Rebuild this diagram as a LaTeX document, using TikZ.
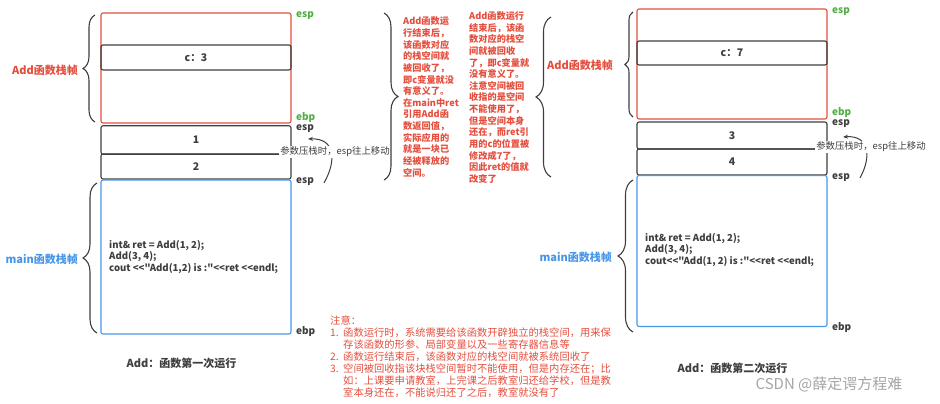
\documentclass[tikz,border=0pt]{standalone}
\usepackage{fontspec}
\newfontfamily\cjk{Noto Sans CJK SC}
\usetikzlibrary{arrows.meta,decorations.pathreplacing}
\definecolor{R}{RGB}{228, 78, 62}
\definecolor{B}{RGB}{72, 150, 232}
\definecolor{G}{RGB}{84, 174, 70}
\definecolor{K}{RGB}{62, 62, 62}
\definecolor{W}{RGB}{165, 165, 165}

\tikzset{
  stackbox/.style={draw=K,line width=1.1pt,rounded corners=2pt,minimum width=190pt,inner sep=0pt,
    text=K,font=\cjk\bfseries\fontsize{10.5}{12}\selectfont},
  regname/.style={anchor=west,inner sep=0pt,font=\cjk\bfseries\fontsize{10}{11}\selectfont},
  framename/.style={anchor=east,inner sep=0pt,font=\cjk\bfseries\fontsize{11}{13}\selectfont},
  bracebar/.style={decorate,decoration={brace,amplitude=#1},draw=K,line width=1.1pt},
  sidenote/.style={anchor=west,align=left,inner sep=0pt,text=R,
    font=\cjk\bfseries\fontsize{9.2}{11.65}\selectfont},
  codetext/.style={anchor=west,align=left,inner sep=0pt,text=K,
    font=\cjk\bfseries\fontsize{9.6}{11.6}\selectfont},
  pushline/.style={-{Stealth[length=5pt,width=4pt]},draw=K,line width=1pt},
  pushlabel/.style={fill=white,inner sep=1pt,text=K,font=\cjk\fontsize{9.4}{11}\selectfont},
  caption/.style={inner sep=0pt,text=K,font=\cjk\bfseries\fontsize{11}{13}\selectfont}
}

\begin{document}
\begin{tikzpicture}[x=1pt,y=-1pt]
  \useasboundingbox (0,0) rectangle (940,404);

  %primera llamada: marco de Add
  \node[stackbox,draw=R,minimum height=110pt] (addL) at (196,68) {};
  \node[stackbox,minimum height=25pt] (cL) at (196,57.5) {c：3};
  %parametros
  \node[stackbox,minimum height=28.5pt] (oneL) at (196,140) {1};
  \node[stackbox,minimum height=25pt] (twoL) at (196,166.5) {2};
  %marco de main
  \node[stackbox,draw=B,minimum height=154pt] (mainL) at (196,257) {};
  \node[codetext] (codeL) at (109,257) {int\& ret = Add(1, 2);\\Add(3, 4);\\cout <<"Add(1,2) is :"<<ret <<endl;};

  %llaves izquierda
  \draw[bracebar=12pt] (95,122) -- (95,15);
  \draw[bracebar=14pt] (97,333) -- (97,183);
  \node[framename,text=R] (addNameL) at (78,70) {Add函数栈帧};
  \node[framename,text=B] (mainNameL) at (78,259) {main函数栈帧};

  %registros
  \node[regname,text=G] (espTopL) at (296,16) {esp};
  \node[regname,text=G] (ebpTopL) at (296,117.5) {ebp};
  \node[regname,text=K] (espMidL) at (296,129) {esp};
  \node[regname,text=K] (espLowL) at (296,182) {esp};
  \node[regname,text=K] (ebpLowL) at (296,332) {ebp};

  %esp sube
  \coordinate (tailL) at (324,183);
  \coordinate (tipL) at (308,139);
  \draw[pushline] (tailL) .. controls (337,160) and (335,138) .. (tipL);
  \node[pushlabel] (pushL) at (335,152) {参数压栈时，esp往上移动};

  \node[caption] (capL) at (181.5,363) {Add：函数第一次运行};

  %notas del centro
  \draw[bracebar=14pt] (384,13) -- (384,180);
  \node[sidenote] (noteA) at (403,97) {Add函数运\\行结束后，\\该函数对应\\的栈空间就\\被回收了，\\即c变量就没\\有意义了。\\在main中ret\\引用Add函\\数返回值，\\实际应用的\\就是一块已\\经被释放的\\空间。};
  \node[sidenote] (noteB) at (469,97.5) {Add函数运行\\结束后，该函\\数对应的栈空\\间就被回收\\了，即c变量就\\没有意义了。\\注意空间被回\\收指的是空间\\不能使用了，\\但是空间本身\\还在，而ret引\\用的c的位置被\\修改成7了，\\因此ret的值就\\改变了};
  \draw[bracebar=15pt] (551,177) -- (551,17);

  %segunda llamada: marco de Add
  \node[stackbox,draw=R,minimum height=110pt] (addR) at (732,64) {};
  \node[stackbox,minimum height=24pt] (cR) at (732,53) {c：7};
  %parametros
  \node[stackbox,minimum height=27pt] (oneR) at (732,135.5) {3};
  \node[stackbox,minimum height=26pt] (twoR) at (732,162) {4};
  %marco de main
  \node[stackbox,draw=B,minimum height=151pt] (mainR) at (732,251) {};
  \node[codetext] (codeR) at (645,250) {int\& ret = Add(1, 2);\\Add(3, 4);\\cout<<"Add(1, 2) is :"<<ret <<endl;};

  %llaves derecha
  \draw[bracebar=8pt] (633,117) -- (633,12);
  \draw[bracebar=15pt] (633,332) -- (633,180);
  \node[framename,text=R] (addNameR) at (613,65) {Add函数栈帧};
  \node[framename,text=B] (mainNameR) at (612,257) {main函数栈帧};

  %registros
  \node[regname,text=G] (espTopR) at (832,12) {esp};
  \node[regname,text=G] (ebpTopR) at (832,113) {ebp};
  \node[regname,text=K] (espMidR) at (832,124) {esp};
  \node[regname,text=K] (espLowR) at (832,178) {esp};
  \node[regname,text=K] (ebpLowR) at (832,328) {ebp};

  %esp sube
  \coordinate (tailR) at (860,178);
  \coordinate (tipR) at (843,137);
  \draw[pushline] (tailR) .. controls (872,156) and (869,135) .. (tipR);
  \node[pushlabel] (pushR) at (871,147) {参数压栈时，esp往上移动};

  \node[caption] (capR) at (732.5,368) {Add：函数第二次运行};

  %nota de abajo
  \node[anchor=west,align=left,inner sep=0pt,text=R,font=\cjk\fontsize{10.3}{12}\selectfont] (warn) at (330,357)
    {注意：\\
     \makebox[13pt][l]{1.}函数运行时，系统需要给该函数开辟独立的栈空间，用来保\\
     \hspace*{13pt}存该函数的形参、局部变量以及一些寄存器信息等\\
     \makebox[13pt][l]{2.}函数运行结束后，该函数对应的栈空间就被系统回收了\\
     \makebox[13pt][l]{3.}空间被回收指该块栈空间暂时不能使用，但是内存还在；比\\
     \hspace*{13pt}如：上课要申请教室，上完课之后教室归还给学校，但是教\\
     \hspace*{13pt}室本身还在，不能说归还了之后，教室就没有了};

  \node[inner sep=0pt,text=W,font=\cjk\fontsize{15}{16}\selectfont] (mark) at (829,384) {CSDN @薛定谔方程难};
\end{tikzpicture}
\end{document}
